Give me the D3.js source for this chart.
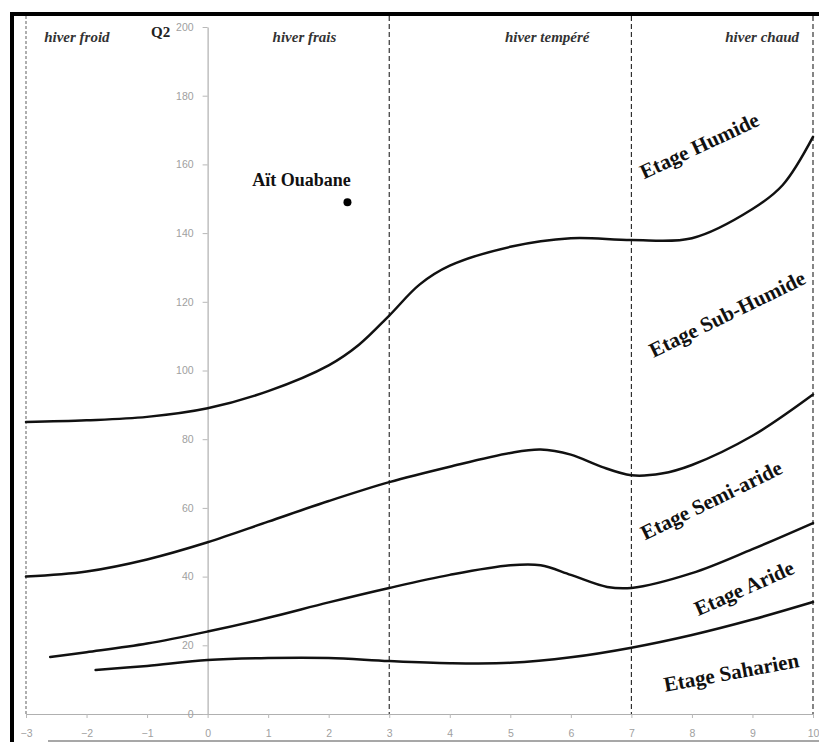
<!DOCTYPE html>
<html>
<head>
<meta charset="utf-8">
<script src="https://cdn.jsdelivr.net/npm/d3@7"></script>
<style>
  body { margin: 0; background: #fff; }
  svg { display: block; }
</style>
</head>
<body>
<div id="chart"></div>
<script>
// climagramme d'Emberger : m (°C) en abscisse, Q2 en ordonnée
const xTicks = [-3, -2, -1, 0, 1, 2, 3, 4, 5, 6, 7, 8, 9, 10];
const yTicks = [0, 20, 40, 60, 80, 100, 120, 140, 160, 180, 200];

const winterLimits = [-3, 3, 7, 10];
const winterNames = ['hiver froid', 'hiver frais', 'hiver tempéré', 'hiver chaud'];
const etageNames = ['Etage Humide', 'Etage Sub-Humide', 'Etage Semi-aride', 'Etage Aride', 'Etage Saharien'];

// limites entre étages
const limitHumide = [
  [-3, 85], [-2, 85.5], [-1, 86.5], [0, 89], [1, 94], [2, 101.5], [2.5, 107.5],
  [3, 116], [3.5, 125], [4, 130.5], [5, 136], [6, 138.5], [7, 138], [8, 138.5],
  [9, 147], [9.5, 154], [10, 168]
];
const limitSubHumide = [
  [-3, 40], [-2, 41.5], [-1, 45], [0, 50], [1, 56], [2, 62], [3, 67.5], [4, 72],
  [5, 76], [5.5, 77], [6, 75.5], [6.5, 72], [7, 69.5], [7.5, 70], [8, 72.5], [9, 81], [10, 93]
];
const limitSemiAride = [
  [-2.6, 16.6], [-2, 18], [-1, 20.5], [0, 24], [1, 28], [2, 32.5], [3, 36.7], [4, 40.5],
  [5, 43.3], [5.5, 43.3], [6, 40.5], [6.6, 37], [7, 36.7], [8, 41], [9, 48], [10, 55.6]
];
const limitAride = [
  [-1.85, 12.8], [-1, 14], [0, 15.7], [1, 16.3], [2, 16.3], [3, 15.4], [4, 14.8],
  [5, 14.9], [6, 16.5], [7, 19.3], [8, 23], [9, 27.5], [10, 32.6]
];
const limits = [limitHumide, limitSubHumide, limitSemiAride, limitAride];

const station = { name: 'Aït Ouabane', m: 2.31, q2: 149 };

class Climagramme {
  constructor(_config) {
    this.config = {
      parentElement: _config.parentElement,
      containerWidth: 819,
      containerHeight: 742,
      margin: { top: 27, right: 5, bottom: 28, left: 26 }
    };
    this.initVis();
  }

  initVis() {
    const vis = this;
    const c = vis.config;
    vis.width = c.containerWidth - c.margin.left - c.margin.right;
    vis.height = c.containerHeight - c.margin.top - c.margin.bottom;

    vis.svg = d3.select(c.parentElement).append('svg')
      .attr('width', c.containerWidth)
      .attr('height', c.containerHeight);

    vis.chart = vis.svg.append('g')
      .attr('transform', `translate(${c.margin.left},${c.margin.top})`);

    vis.xScale = d3.scaleLinear().domain([-3, 10]).range([0, vis.width - 1]);
    vis.yScale = d3.scaleLinear().domain([0, 200]).range([vis.height, 0]);

    vis.renderVis();
  }

  renderVis() {
    const vis = this;
    const x = vis.xScale, y = vis.yScale;
    const serif = '"Liberation Serif", "Times New Roman", serif';

    // axe des x
    const xAxisG = vis.chart.append('g')
      .attr('transform', `translate(0,${vis.height})`)
      .call(d3.axisBottom(x).tickValues(xTicks).tickSize(4).tickSizeOuter(0).tickPadding(12));

    // axe des y (Q2) sur m = 0
    const yAxisG = vis.chart.append('g')
      .attr('transform', `translate(${x(0)},0)`)
      .call(d3.axisLeft(y).tickValues(yTicks).tickSize(5).tickSizeOuter(0).tickPadding(9));

    [xAxisG, yAxisG].forEach(g => {
      g.select('.domain').attr('stroke', '#b0b0b0').attr('stroke-width', 1.2);
      g.selectAll('.tick line').attr('stroke', '#b8b8b8');
      g.selectAll('.tick text')
        .attr('fill', '#a0a0a0')
        .style('font-family', '"Liberation Sans", Arial, sans-serif')
        .style('font-size', '10.5px');
    });

    // limites des variantes d'hiver
    vis.chart.selectAll('.winter-limit')
      .data(winterLimits)
      .join('line')
      .attr('class', 'winter-limit')
      .attr('x1', d => x(d)).attr('x2', d => x(d))
      .attr('y1', -11).attr('y2', vis.height)
      .attr('stroke', d => d === -3 ? '#9c9c9c' : '#222')
      .attr('stroke-width', d => d === -3 ? 1.6 : 1.1)
      .attr('stroke-dasharray', d => d === -3 ? '3,2' : '5,3');

    // courbes limites
    const line = d3.line()
      .x(d => x(d[0]))
      .y(d => y(d[1]))
      .curve(d3.curveCatmullRom.alpha(0.5));

    vis.chart.selectAll('.limit')
      .data(limits)
      .join('path')
      .attr('class', 'limit')
      .attr('d', line)
      .attr('fill', 'none')
      .attr('stroke', '#111')
      .attr('stroke-width', 2.5)
      .attr('stroke-linecap', 'round');

    // noms des hivers
    const winterPos = [-2.16, 1.6, 5.61, 9.16];
    vis.chart.selectAll('.winter-name')
      .data(winterNames)
      .join('text')
      .attr('class', 'winter-name')
      .attr('x', (d, i) => x(winterPos[i]))
      .attr('y', 15)
      .attr('text-anchor', 'middle')
      .attr('fill', '#333')
      .style('font-family', serif)
      .style('font-style', 'italic')
      .style('font-weight', 'bold')
      .style('font-size', '15px')
      .text(d => d);

    // noms des étages
    const etagePos = [
      { m: 8.12, q2: 165.5, a: -25 },
      { m: 8.58, q2: 116.5, a: -26 },
      { m: 8.32, q2: 62.3, a: -26 },
      { m: 8.86, q2: 36.7, a: -24 },
      { m: 8.65, q2: 12.2, a: -10.5 }
    ];
    vis.chart.selectAll('.etage')
      .data(etageNames)
      .join('text')
      .attr('class', 'etage')
      .attr('transform', (d, i) => `translate(${x(etagePos[i].m)},${y(etagePos[i].q2)}) rotate(${etagePos[i].a})`)
      .attr('dy', '0.35em')
      .attr('text-anchor', 'middle')
      .attr('fill', '#111')
      .style('font-family', serif)
      .style('font-weight', 'bold')
      .style('font-size', '21px')
      .text(d => d);

    // titre de l'axe Q2
    vis.chart.append('text')
      .attr('x', x(0) - 47)
      .attr('y', 10)
      .attr('text-anchor', 'middle')
      .attr('fill', '#222')
      .style('font-family', serif)
      .style('font-weight', 'bold')
      .style('font-size', '15px')
      .text('Q2');

    // station
    vis.chart.append('circle')
      .attr('cx', x(station.m))
      .attr('cy', y(station.q2))
      .attr('r', 4)
      .attr('fill', '#000');

    vis.chart.append('text')
      .attr('x', x(station.m) - 46)
      .attr('y', y(station.q2) - 16)
      .attr('text-anchor', 'middle')
      .attr('fill', '#111')
      .style('font-family', serif)
      .style('font-weight', 'bold')
      .style('font-size', '18px')
      .text(station.name);

    // cadre noir (haut et gauche) et trait gris en bas
    vis.svg.append('rect').attr('x', 10).attr('y', 12).attr('width', 809).attr('height', 4).attr('fill', '#000');
    vis.svg.append('rect').attr('x', 10).attr('y', 12).attr('width', 4).attr('height', 730).attr('fill', '#000');
    vis.svg.append('line')
      .attr('x1', 48).attr('x2', 819).attr('y1', 741).attr('y2', 741)
      .attr('stroke', '#8a8a8a').attr('stroke-width', 1.5);
  }
}

new Climagramme({ parentElement: '#chart' });
</script>
</body>
</html>
